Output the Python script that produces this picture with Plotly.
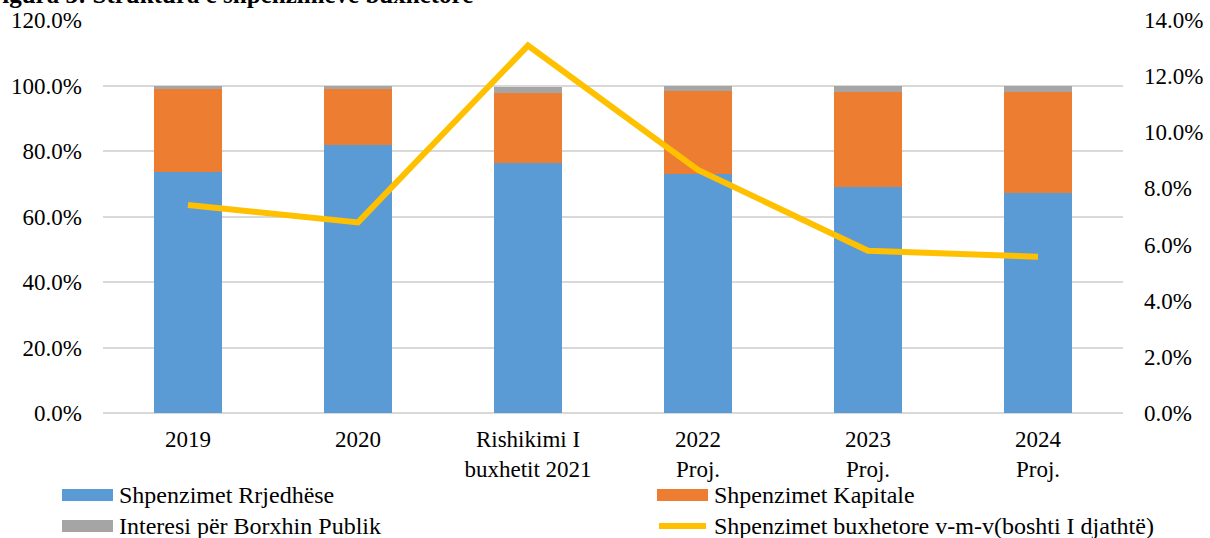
import plotly.graph_objects as go

categories = ["2019", "2020", "Rishikimi I<br>buxhetit 2021", "2022<br>Proj.", "2023<br>Proj.", "2024<br>Proj."]
current_exp = [0.735, 0.818, 0.764, 0.730, 0.690, 0.673]
capital_exp = [0.254, 0.171, 0.213, 0.254, 0.290, 0.307]
interest_exp = [0.011, 0.011, 0.018, 0.016, 0.020, 0.020]
growth_yoy = [0.0741, 0.0679, 0.1309, 0.0866, 0.0578, 0.0557]

series_names = ["Shpenzimet Rrjedhëse", "Shpenzimet Kapitale",
                "Interesi për Borxhin Publik", "Shpenzimet buxhetore v-m-v(boshti I djathtë)"]
series_colors = ["#5B9BD5", "#ED7D31", "#A5A5A5", "#FFC000"]

left_ticks = [0, 0.2, 0.4, 0.6, 0.8, 1.0, 1.2]
right_ticks = [0, 0.02, 0.04, 0.06, 0.08, 0.10, 0.12, 0.14]

FONT = '"Liberation Serif", "Times New Roman", serif'
fs = 23
W, H = 1210, 538
ML, MR, MT, MB = 103, 87, 20, 125
PW, PH = W - ML - MR, H - MT - MB


def px_x(px):
    return (px - ML) / PW


def px_y(py):
    return (H - MB - py) / PH


fig = go.Figure()
for vals, name, col in zip([current_exp, capital_exp, interest_exp], series_names[:3], series_colors[:3]):
    fig.add_trace(go.Bar(x=categories, y=vals, name=name, width=0.396,
                         marker=dict(color=col, line=dict(width=0))))
fig.add_trace(go.Scatter(x=categories, y=growth_yoy, name=series_names[3],
                         mode="lines", line=dict(color=series_colors[3], width=6), yaxis="y2"))

# custom legend (two columns, wide swatches)
legend_slots = [(62, 495), (657, 495), (62, 526), (657, 526)]
shapes = []
annotations = []
for i, ((sx, sy), name, col) in enumerate(zip(legend_slots, series_names, series_colors)):
    if i < 3:
        shapes.append(dict(type="rect", xref="paper", yref="paper",
                           x0=px_x(sx), x1=px_x(sx + 51), y0=px_y(sy + 6), y1=px_y(sy - 6),
                           fillcolor=col, line=dict(width=0)))
    else:
        shapes.append(dict(type="line", xref="paper", yref="paper",
                           x0=px_x(sx + 2), x1=px_x(sx + 49), y0=px_y(sy), y1=px_y(sy),
                           line=dict(color=col, width=6)))
    annotations.append(dict(text=name, xref="paper", yref="paper", x=px_x(sx + 55), y=px_y(sy),
                            xanchor="left", yanchor="middle", showarrow=False,
                            font=dict(size=24)))

annotations.append(dict(text="<b>Figura 3: Struktura e shpenzimeve buxhetore</b>",
                        xref="paper", yref="paper", x=0, y=1, xanchor="left", yanchor="bottom",
                        xshift=-118, yshift=10, showarrow=False, font=dict(size=25)))

fig.update_layout(
    width=W, height=H,
    barmode="stack",
    showlegend=False,
    plot_bgcolor="white", paper_bgcolor="white",
    margin=dict(l=ML, r=MR, t=MT, b=MB, autoexpand=False),
    font=dict(family=FONT, size=fs, color="black"),
    xaxis=dict(showgrid=False, showline=False, ticks="", tickfont=dict(size=fs),
               ticklabelstandoff=10, automargin=False),
    yaxis=dict(range=[0, 1.2], tickvals=left_ticks, tickformat=".1%",
               showgrid=True, gridcolor="#D9D9D9", gridwidth=1.5,
               zeroline=True, zerolinecolor="#D9D9D9", zerolinewidth=1.5,
               showline=False, ticks="", ticklabelstandoff=20, automargin=False),
    yaxis2=dict(range=[0, 0.14], tickvals=right_ticks, tickformat=".1%",
                overlaying="y", side="right", showgrid=False, zeroline=False,
                showline=False, ticks="", ticklabelstandoff=20, automargin=False),
    shapes=shapes,
    annotations=annotations,
)

fig.write_html("out.html", config={"displayModeBar": False},
               post_script="document.body.style.margin='0';document.body.style.overflow='hidden';")
